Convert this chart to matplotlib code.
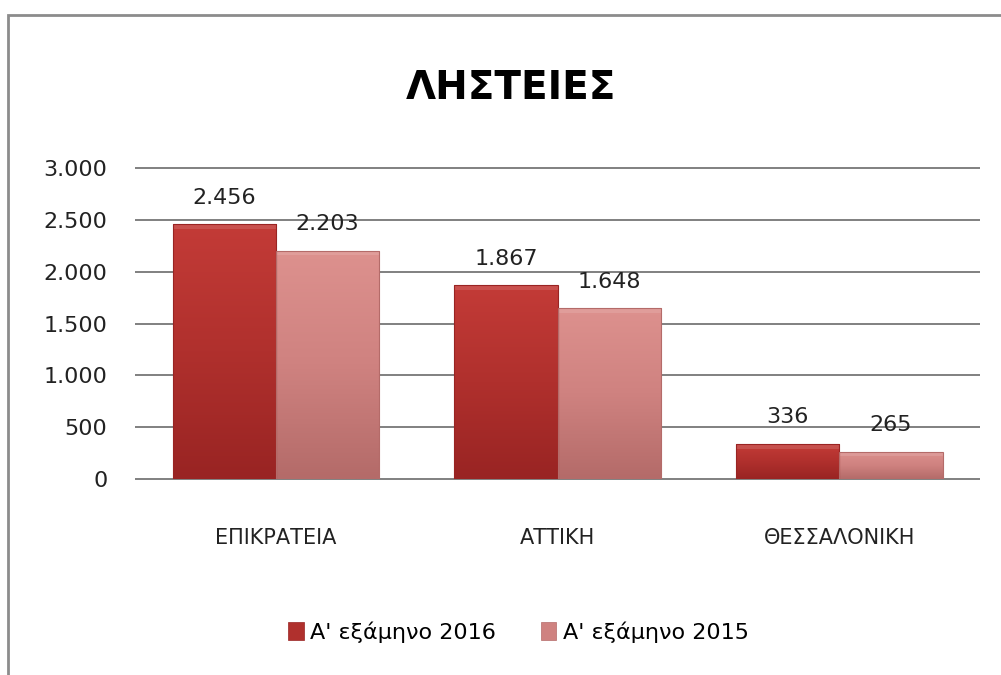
import matplotlib
matplotlib.use("Agg")
import matplotlib.pyplot as plt
from matplotlib.patches import Rectangle
from matplotlib.colors import LinearSegmentedColormap
import numpy as np

plt.rcParams['font.family'] = ['DejaVu Sans']

# Data
categories = ["ΕΠΙΚΡΑΤΕΙΑ", "ΑΤΤΙΚΗ", "ΘΕΣΣΑΛΟΝΙΚΗ"]
values_2016 = [2456, 1867, 336]
values_2015 = [2203, 1648, 265]
series_names = ["Α' εξάμηνο 2016", "Α' εξάμηνο 2015"]
yticks = [0, 500, 1000, 1500, 2000, 2500, 3000]

dark = ["#992423", "#b0302d", "#c33b37"]
light = ["#b46b69", "#cf8280", "#dd918e"]

fig = plt.figure(figsize=(10.01, 6.75), dpi=100)
ax = fig.add_axes([0.135, 0.2904, 0.844, 0.4606])

x = np.arange(len(categories))
w = 0.367

def shaded_bars(xpos, vals, cols, label):
    bars = ax.bar(xpos, vals, w, color=cols[1], linewidth=0,
                  label=label, zorder=3)
    cmap = LinearSegmentedColormap.from_list("g", cols)
    grad = np.linspace(0, 1, 100).reshape(-1, 1)
    for b in bars:
        x0, y0 = b.get_x(), b.get_y()
        bw, bh = b.get_width(), b.get_height()
        im = ax.imshow(grad, cmap=cmap, aspect="auto", origin="lower",
                       extent=(x0, x0 + bw, y0, y0 + bh), zorder=3.1)
        im.set_clip_path(b)
        # soft top bevel
        ax.bar(x0 + bw / 2, min(45, bh), bw, bottom=y0 + bh - min(45, bh),
               color="white", alpha=0.12, linewidth=0, zorder=3.2)
        # thin dark side edge
        ax.bar(x0 + bw / 2, bh, bw, bottom=y0, fill=False,
               edgecolor=cols[0], linewidth=0.8, zorder=3.3)
    return bars

b1 = shaded_bars(x - w / 2, values_2016, dark, series_names[0])
b2 = shaded_bars(x + w / 2, values_2015, light, series_names[1])

# value labels
for bars, vals in ((b1, values_2016), (b2, values_2015)):
    for b, v in zip(bars, vals):
        txt = f"{v:,}".replace(",", ".")
        ax.annotate(txt, (b.get_x() + b.get_width() / 2, v),
                    xytext=(0, 12), textcoords="offset points",
                    ha="center", va="bottom", fontsize=16, color="#222222",
                    zorder=5)

ax.set_xlim(-0.5, 2.5)
ax.set_ylim(0, 3000)
ax.set_yticks(yticks)
ax.set_yticklabels([f"{t:,}".replace(",", ".") for t in yticks])
ax.set_xticks(x)
ax.set_xticklabels(categories)
ax.tick_params(axis="y", length=0, pad=20, labelsize=16, labelcolor="#222222")
ax.tick_params(axis="x", length=0, pad=35, labelsize=15, labelcolor="#222222")
ax.hlines(yticks, -0.5, 2.5, color="#808080", linewidth=1.4, zorder=0,
          clip_on=False)
for s in ax.spines.values():
    s.set_visible(False)
ax.set_facecolor("none")

# title
fig.text(0.51, 0.87, "ΛΗΣΤΕΙΕΣ", ha="center", va="center",
         fontsize=28, fontweight="bold", color="black")

# legend
handles = [Rectangle((0, 0), 1, 1, facecolor=dark[1], edgecolor=dark[0], lw=0.5),
           Rectangle((0, 0), 1, 1, facecolor=light[1], edgecolor=light[0], lw=0.5)]
fig.legend(handles, series_names, loc="center", bbox_to_anchor=(0.518, 0.064),
           ncol=2, frameon=False, fontsize=16, handlelength=0.7,
           handleheight=0.9, handletextpad=0.3, columnspacing=2.0)

# outer frame
fig.add_artist(Rectangle((0.008, -0.1), 1.2, 1.1 - 15 / 675,
                         transform=fig.transFigure, fill=False,
                         edgecolor="#8c8c8c", linewidth=2))

fig.savefig("out.png", dpi=100, facecolor="white")
